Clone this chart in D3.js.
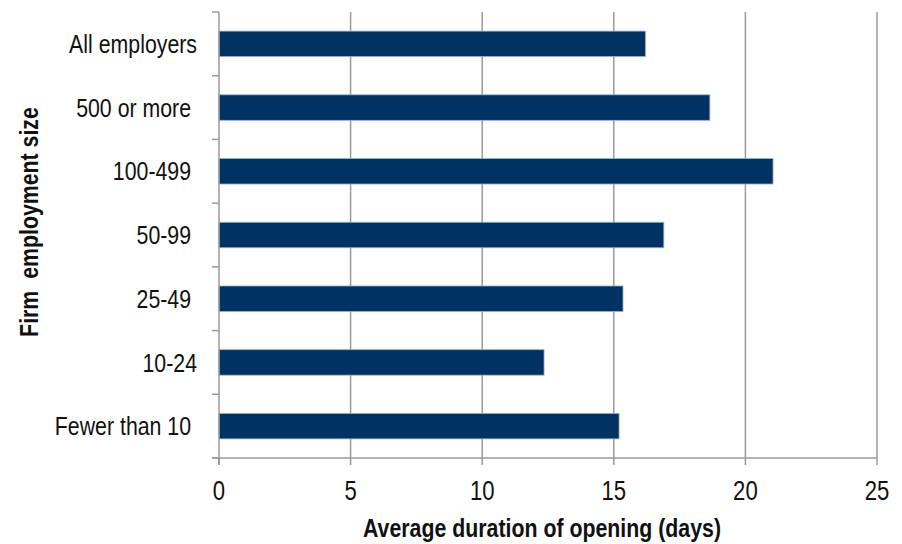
<!DOCTYPE html>
<html><head><meta charset="utf-8">
<script src="https://cdn.jsdelivr.net/npm/d3@7"></script>
<style>
body{margin:0;background:#fff;}
svg text{white-space:pre;}
</style></head>
<body>
<svg id="c" width="902" height="544"></svg>
<script>
const categories = ["All employers","500 or more ","100-499 ","50-99 ","25-49 ","10-24","Fewer than 10 "];
const values = [16.2, 18.65, 21.05, 16.9, 15.35, 12.35, 15.2];
const xTicks = [0,5,10,15,20,25];
const xTitle = "Average duration of opening (days)";
const yTitle = "Firm  employment size";

const svg = d3.select("#c");
const m = {l:219, r:877, t:12, b:458};
const x = d3.scaleLinear().domain([0,25]).range([m.l, m.r]);
const y = d3.scaleBand().domain(categories).range([m.t, m.b]).paddingInner(0.6).paddingOuter(0.3);
const yb = d3.scaleBand().domain(categories).range([m.t, m.b]);
const grey = "#9a9a9a";
const font = "'Liberation Sans Narrow','Arial Narrow','Liberation Sans',Arial,sans-serif";
const sx = 0.82;

// gridlines
svg.append("g").selectAll("line").data(xTicks.slice(1)).join("line")
  .attr("x1", d=>x(d)).attr("x2", d=>x(d)).attr("y1", m.t).attr("y2", m.b)
  .attr("stroke", grey).attr("stroke-width", 1.5);

// bars
svg.append("g").selectAll("rect").data(values).join("rect")
  .attr("x", x(0)).attr("y", (d,i)=>y(categories[i]))
  .attr("width", d=>x(d)-x(0)).attr("height", y.bandwidth())
  .attr("fill", "#003263").attr("stroke", "#9fb0c8").attr("stroke-width", 0.8);

// y axis
const ya = svg.append("g");
ya.append("line").attr("x1", m.l).attr("x2", m.l).attr("y1", m.t).attr("y2", m.b+7)
  .attr("stroke", grey).attr("stroke-width", 1.5);
const bounds = categories.map(c=>yb(c)).concat([m.b]);
ya.selectAll("line.t").data(bounds).join("line").attr("class","t")
  .attr("x1", m.l-7).attr("x2", m.l).attr("y1", d=>d).attr("y2", d=>d)
  .attr("stroke", grey).attr("stroke-width", 1.5);
ya.selectAll("text").data(categories).join("text")
  .attr("transform", d=>`translate(197,${yb(d)+yb.bandwidth()/2}) scale(${sx},1)`)
  .attr("dy", "0.35em").attr("text-anchor", "end")
  .style("font-family", font).style("font-size", "26px").attr("fill", "#111")
  .text(d=>d);

// x axis
const xa = svg.append("g");
xa.append("line").attr("x1", m.l-7).attr("x2", m.r).attr("y1", m.b).attr("y2", m.b)
  .attr("stroke", grey).attr("stroke-width", 1.5);
xa.selectAll("line.t").data(xTicks).join("line").attr("class","t")
  .attr("x1", d=>x(d)).attr("x2", d=>x(d)).attr("y1", m.b).attr("y2", m.b+7)
  .attr("stroke", grey).attr("stroke-width", 1.5);
xa.selectAll("text").data(xTicks).join("text")
  .attr("transform", d=>`translate(${x(d)},500) scale(${sx},1)`).attr("text-anchor", "middle")
  .style("font-family", font).style("font-size", "27px").attr("fill", "#111")
  .text(d=>d);

svg.append("text").attr("transform",`translate(542,537) scale(${sx},1)`).attr("text-anchor","middle")
  .style("font-family", font).style("font-size","26px").style("font-weight","bold").attr("fill","#111")
  .text(xTitle);
svg.append("text").attr("transform",`translate(38,222) rotate(-90) scale(${sx},1)`).attr("text-anchor","middle")
  .style("font-family", font).style("font-size","26px").style("font-weight","bold").attr("fill","#111")
  .text(yTitle);
</script>
</body></html>
